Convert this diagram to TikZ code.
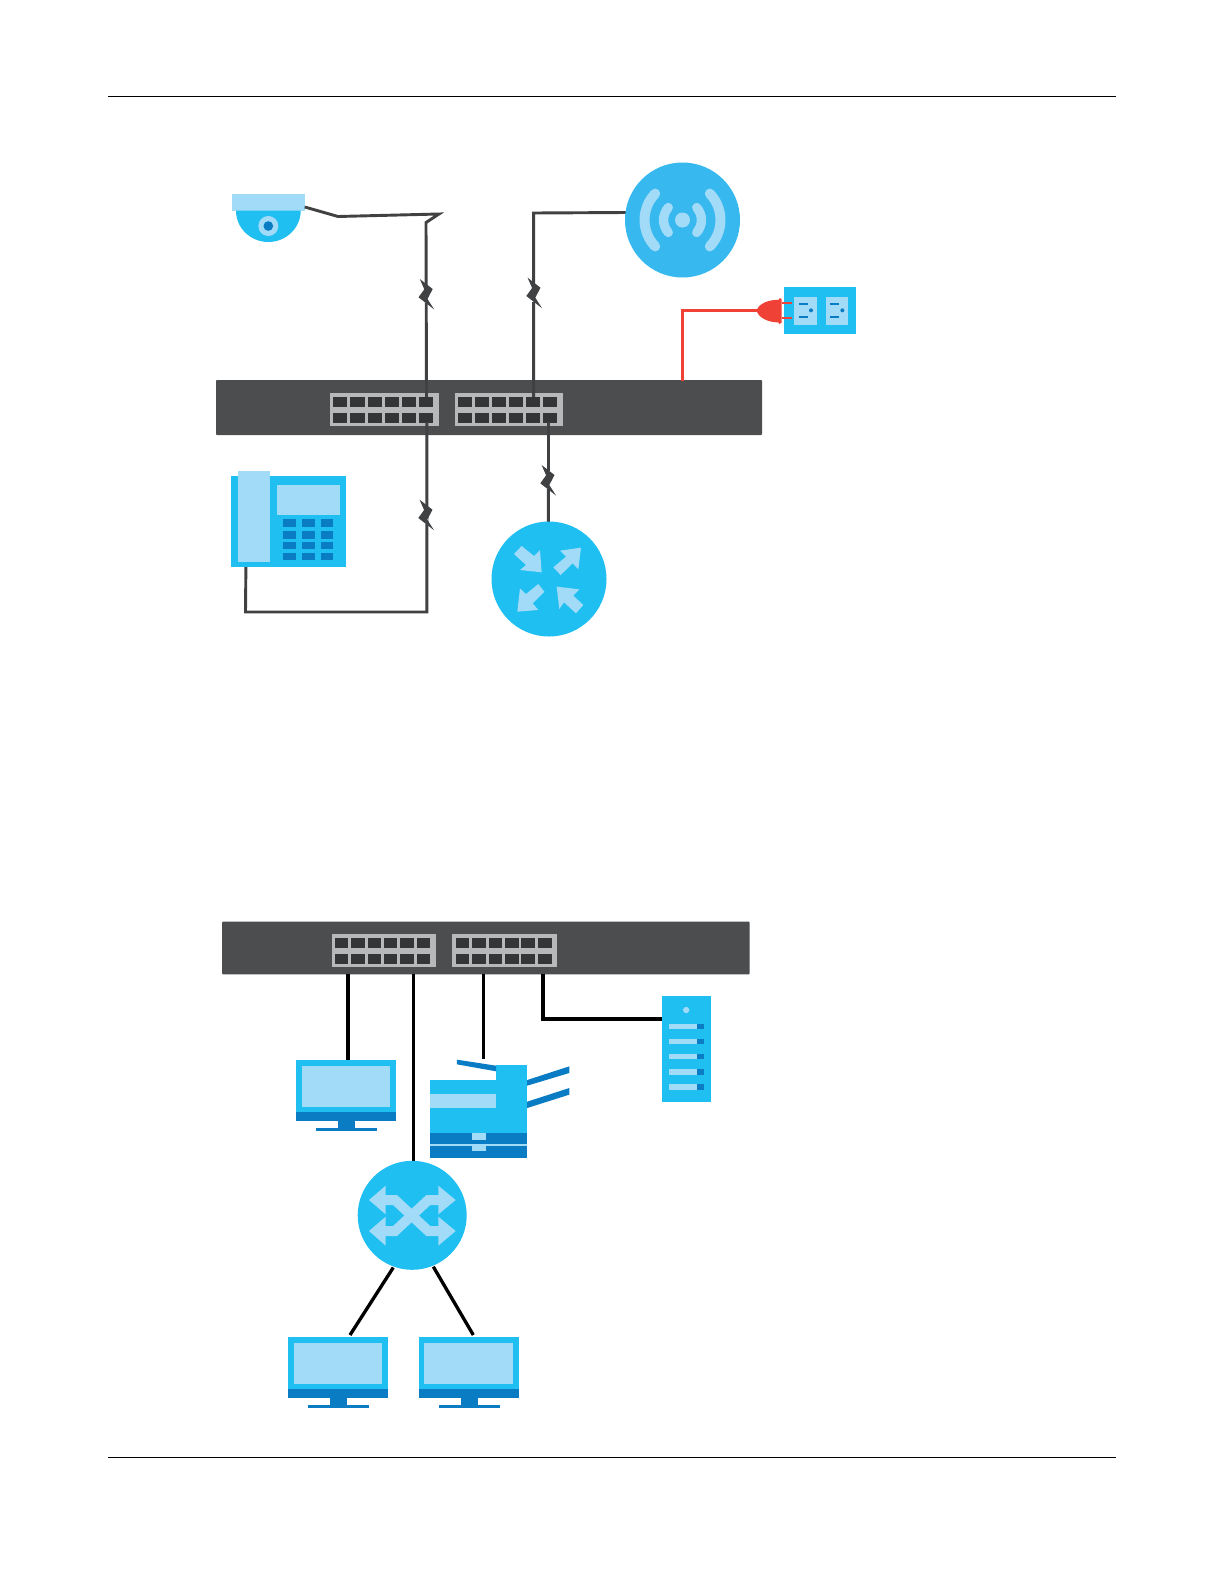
\documentclass[tikz,border=0pt]{standalone}
\usetikzlibrary{fit,calc}
\definecolor{swgray}{HTML}{4C4D4F}
\definecolor{portgray}{HTML}{B7B8BA}
\definecolor{celldark}{HTML}{343537}
\definecolor{wiregray}{HTML}{404143}
\definecolor{skyA}{HTML}{37B8EE}
\definecolor{skyB}{HTML}{1FBFF2}
\definecolor{pale}{HTML}{A2DBF8}
\definecolor{deep}{HTML}{0A7CC4}
\definecolor{plugred}{HTML}{EF4136}
\tikzset{
  blk/.style={inner sep=0pt,outer sep=0pt,rectangle,line width=0pt},
  disc/.style={circle,inner sep=0pt,outer sep=0pt,minimum size={#1*0.6pt}},
  gwire/.style={draw=wiregray,line width=1.75pt,line join=miter},
  kwire/.style={draw=black,line width=2pt},
  rwire/.style={draw=plugred,line width=1.8pt},
  zone/.style n args={4}{shift={(#1,#2)},x=#3 pt,y=-#4 pt},
  brkmark/.pic={\fill[wiregray] (-6.7,-15) -- (6.2,-5) -- (1,5) -- (7.7,15.5) -- (-8,3.3) -- (-2.2,-4.7) -- cycle;},
  monitor/.pic={
    \fill[skyB] (0,0) rectangle (100,52);
    \fill[pale] (5.7,5.5) rectangle (94.3,47);
    \fill[deep] (0,52) rectangle (100,61);
    \fill[deep] (42,61) rectangle (59,68);
    \fill[deep] (20,67.5) rectangle (81,71);
  },
  portbank/.pic={
    \fill[portgray] (0,0) rectangle (#1,33);
    \foreach \i in {0,...,5}{
      \fill[celldark] ({3.2+\i*(#1-6)/6},3.8) rectangle ++({(#1-6)/6-2.9},10);
      \fill[celldark] ({3.2+\i*(#1-6)/6},19.6) rectangle ++({(#1-6)/6-2.9},10);
    }
  },
}
\begin{document}
\begin{tikzpicture}[x=0.6pt,y=-0.6pt]
\useasboundingbox (0,0) rectangle (1224,1584);
% page rules
\coordinate (hl) at (108,96); \coordinate (hr) at (1116,96);
\coordinate (fl) at (108,1457.5); \coordinate (fr) at (1116,1457.5);
\draw[line width=0.6pt] (hl) -- (hr);
\draw[line width=0.6pt] (fl) -- (fr);

% ---------- upper switch
\node[blk,fill=swgray,rounded corners=0.5pt,fit={(216,380)(762,435)}] (sw1) {};
\pic at (330,393) {portbank=109};
\pic at (455,393) {portbank=108};

% named wire points
\coordinate (camout) at (304.7,207);
\coordinate (camb) at (338,216.5);
\coordinate (camc) at (439,214);
\coordinate (camd) at (426,222.5);
\coordinate (pa) at (426.5,397);
\coordinate (apout) at (626,212.5);
\coordinate (apb) at (533.7,213);
\coordinate (pb) at (533.7,397);
\coordinate (brk1) at (426.5,294);
\coordinate (brk2) at (534.3,292.7);
\coordinate (brk3) at (426.3,514.7);
\coordinate (brk4) at (548.3,480);
\coordinate (pc) at (426.8,422);
\coordinate (pd) at (548.5,422);
\coordinate (phb) at (245.5,612);
\coordinate (phc) at (426.8,612);
\coordinate (pwr) at (682.7,380.5);
\coordinate (pwrb) at (682.7,310.7);
\coordinate (pwrc) at (758,310.7);

% devices, upper
\node[blk,fill=pale,fit={(232,194.3)(304.7,210.7)}] (cam) {};
\fill[skyB] (236,210.7) .. controls (236,228) and (250.5,242) .. (268.3,242)
   .. controls (286,242) and (300.7,228) .. (300.7,210.7) -- cycle;
\fill[pale] (268.3,226) circle[radius=6pt];
\fill[deep] (268.3,226) circle[radius=2.9pt];

\draw[gwire] (camout) -- (camb) -- (camc) -- (camd) -- (pa);
\draw[gwire] (apout) -- (apb) -- (pb);
\draw[gwire] (pc) -- (phc) -- (phb) -- (245.9,566);
\draw[gwire] (pd) -- (548.4,524);
\draw[rwire] (pwr) -- (pwrb) -- (pwrc);
\foreach \c in {brk1,brk2,brk3,brk4}{
  \fill[white] ($(\c)+(-2,-9)$) rectangle ($(\c)+(2,9)$);
}
\foreach \c in {brk1,brk2,brk3,brk4}{ \pic at (\c) {brkmark}; }

% access point
\node[disc=115,fill=skyA] (ap) at (682.5,220) {};
\begin{scope}[shift={(682.5,220)},line cap=round]
  \fill[pale] (0,0) circle[radius=4.5pt];
  \draw[pale,line width=6pt] (-27.3,-26.4) .. controls (-41.5,-11.7) and (-41.5,11.7) .. (-27.3,26.4);
  \draw[pale,line width=6pt] (27.3,-26.4) .. controls (41.5,-11.7) and (41.5,11.7) .. (27.3,26.4);
  \draw[pale,line width=5.6pt] (-14.2,-12.5) .. controls (-20.5,-5) and (-20.5,5) .. (-14.2,12.5);
  \draw[pale,line width=5.6pt] (14.2,-12.5) .. controls (20.5,-5) and (20.5,5) .. (14.2,12.5);
\end{scope}

% outlet and plug
\node[blk,fill=skyB,fit={(783.7,286.7)(856,334)}] (outlet) {};
\begin{scope}[zone={600}{140}{0.2}{0.2}]
  \fill[pale] (583,472) rectangle (650,555);
  \fill[pale] (677,472) rectangle (745,555);
  \foreach \d in {0,94}{
    \fill[deep] (597+\d,489) rectangle (623+\d,495);
    \fill[deep] (597+\d,528) rectangle (623+\d,534);
    \fill[deep] (633+\d,511) circle[radius=1.2pt];
  }
  \fill[plugred] (545,487) rectangle (576,493);
  \fill[plugred] (545,530) rectangle (576,536);
  \fill[plugred] (470,512) .. controls (475,490) and (510,478) .. (535,480) -- (540,474) -- (545,478)
     -- (545,548) -- (538,552) -- (535,547) .. controls (510,548) and (475,535) .. (470,512) -- cycle;
\end{scope}

% phone
\node[blk,fill=skyB,fit={(231.3,476)(346,567)}] (phone) {};
\begin{scope}[zone={210}{430}{0.2}{0.2}]
  \fill[pale] (84,122) rectangle (180,396);
  \fill[pale] (200,165) rectangle (390,256);
  \foreach \cx in {220,276,332}{
    \foreach \ry/\rh in {268/24,303/23,335/23,370/21}{
      \fill[deep] (\cx,\ry) rectangle ++(38,\rh);
    }
  }
\end{scope}

% router
\node[disc=115,fill=skyB] (router) at (549,579) {};
\begin{scope}[zone={210}{430}{0.2}{0.2}]
  \fill[pale] (912,372) -- (935,348) -- (972,378) -- (990,360) -- (995,427) -- (930,420) -- (948,405) -- cycle;
  \fill[pale] (1113,353) -- (1050,362) -- (1068,380) -- (1030,412) -- (1052,435) -- (1088,400) -- (1105,418) -- cycle;
  \fill[pale] (922,545) -- (930,475) -- (948,492) -- (985,462) -- (1003,485) -- (968,520) -- (985,540) -- cycle;
  \fill[pale] (1040,470) -- (1108,478) -- (1090,497) -- (1120,525) -- (1098,550) -- (1062,517) -- (1048,537) -- cycle;
\end{scope}

% ---------- lower switch
\node[blk,fill=swgray,rounded corners=0.5pt,fit={(222,921.7)(749.7,974.3)}] (sw2) {};
\pic at (331.7,934) {portbank=104.2};
\pic at (452.4,934) {portbank=104.8};

\coordinate (wa) at (347.9,974.3);
\coordinate (wb) at (413.8,974.3);
\coordinate (wc) at (483.4,974.3);
\coordinate (wd) at (543.1,974.3);
\coordinate (wdb) at (543.1,1019);
\coordinate (prt) at (483.4,1059.3);
\coordinate (xl) at (393.3,1267.5);
\coordinate (xr) at (433.3,1266.7);
\coordinate (pl) at (350,1335);
\coordinate (pr) at (473.3,1335);

% monitors
\node[blk,fit={(295.9,1060.3)(395.9,1121)}] (pc1) {};
\pic at (295.9,1060.3) {monitor};
\node[blk,fit={(288,1337.3)(388,1398)}] (pc2) {};
\pic at (288,1337.3) {monitor};
\node[blk,fit={(418.7,1337.3)(518.7,1398)}] (pc3) {};
\pic at (418.7,1337.3) {monitor};

% printer
\node[blk,fill=skyB,fit={(430,1080)(527.2,1133)}] (printer) {};
\begin{scope}[zone={210}{910}{0.2069}{0.2}]
  \fill[skyB] (830,466) rectangle (920,510);
  \fill[pale] (638,552) rectangle (830,594);
  \fill[deep] (638,668) rectangle (920,745);
  \fill[pale] (638,703) rectangle (920,707);
  \fill[pale] (759,669) rectangle (800,689);
  \fill[pale] (759,706) rectangle (800,724);
  \fill[deep] (716,449) -- (830,467) -- (830,484) -- (716,463) -- cycle;
  \fill[deep] (920,510) -- (1042,469) -- (1042,489) -- (920,527) -- cycle;
  \fill[deep] (920,575) -- (1042,534) -- (1042,554) -- (920,594) -- cycle;
\end{scope}

% server
\node[blk,fill=skyB,fit={(661.7,996)(710.7,1102)}] (server) {};
\begin{scope}[zone={210}{910}{0.2069}{0.2}]
  \fill[pale] (1381,300) circle[radius=1.9pt];
  \foreach \by in {349,394,440,486,531}{
    \fill[pale] (1330,\by-8) rectangle (1412,\by+8);
    \fill[deep] (1412,\by-8) rectangle (1432,\by+8);
  }
\end{scope}

\draw[kwire] (wa) -- (wa |- pc1.north);
\draw[kwire] (wb) -- (wb |- 0,1162);
\draw[kwire] (wc) -- (prt);
\draw[kwire] (wd) -- (wdb) -- (wdb -| server.west);
\draw[kwire] (xl) -- (pl);
\draw[kwire] (xr) -- (pr);

% crossbar switch
\node[disc=109,fill=skyB] (xsw) at (412.2,1215.3) {};
\begin{scope}[zone={270}{1150}{0.2}{0.2}]
  \draw[pale,line width=6pt,line join=miter] (345,150) -- (375,150) -- (475,243) -- (507,243);
  \draw[pale,line width=6pt,line join=miter] (345,243) -- (375,243) -- (475,150) -- (507,150);
  \fill[pale] (297,150) -- (347,107) -- (347,193) -- cycle;
  \fill[pale] (297,243) -- (347,200) -- (347,287) -- cycle;
  \fill[pale] (557,150) -- (505,107) -- (505,193) -- cycle;
  \fill[pale] (557,243) -- (505,200) -- (505,287) -- cycle;
\end{scope}
\end{tikzpicture}
\end{document}
